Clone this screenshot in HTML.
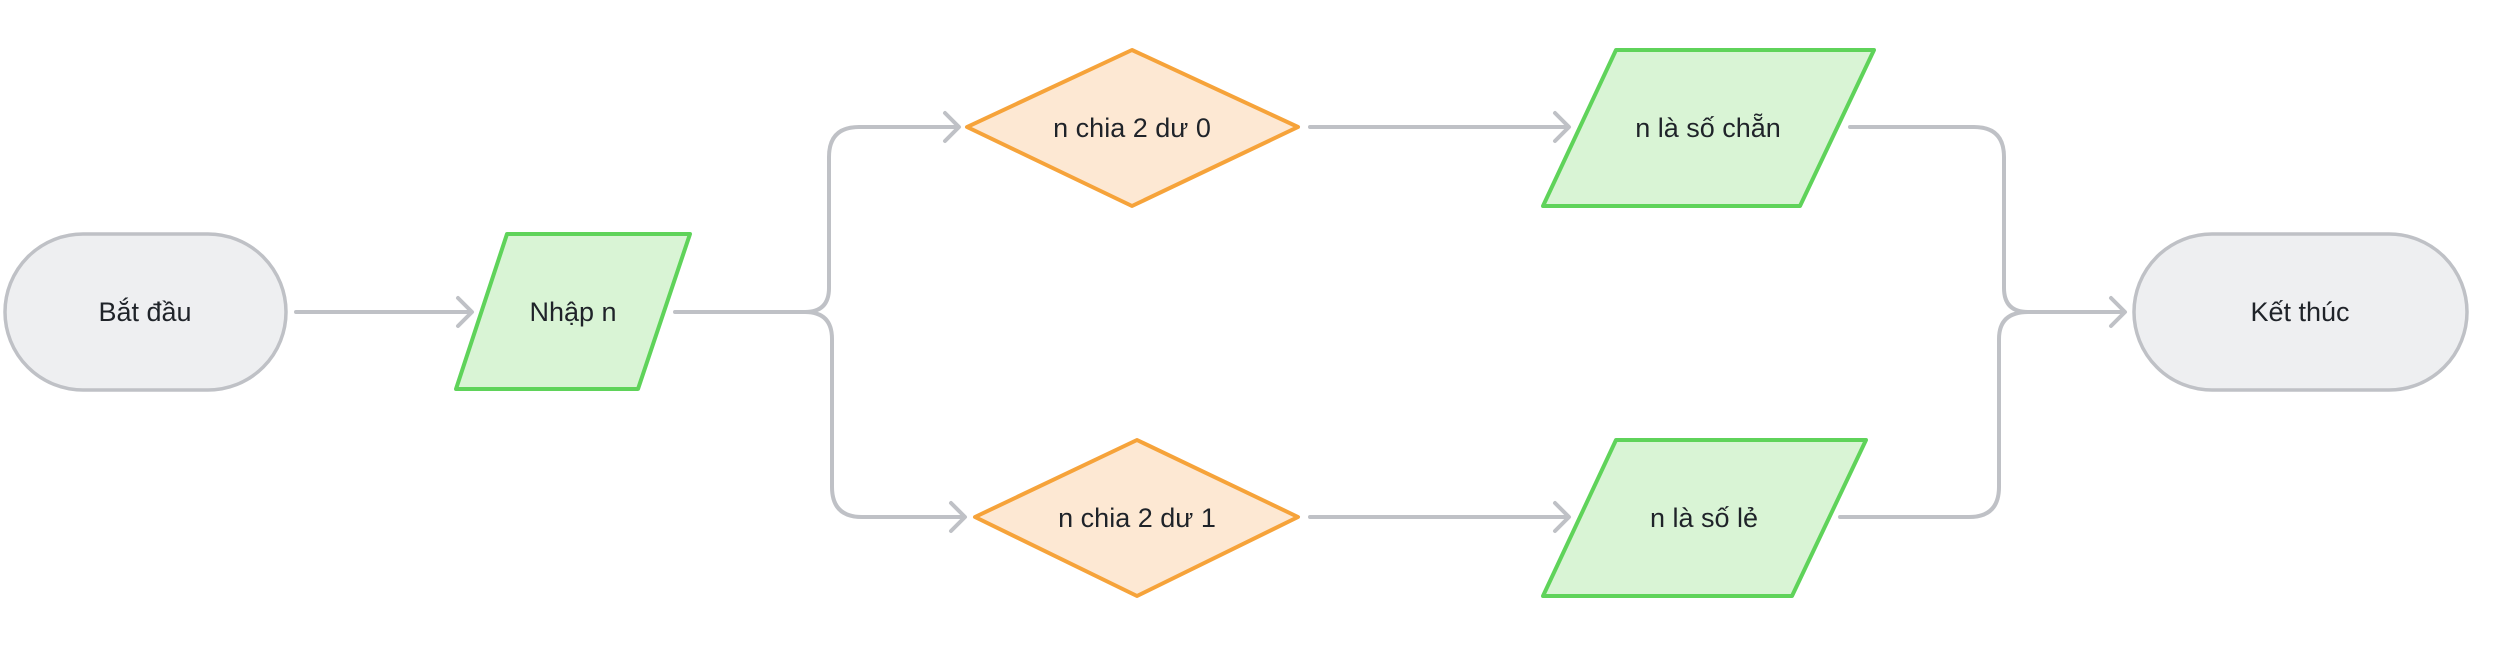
<!DOCTYPE html>
<html><head><meta charset="utf-8"><style>
html,body{margin:0;padding:0;background:#fff;}
svg text{font-family:"Liberation Sans","DejaVu Sans",sans-serif;font-size:27px;fill:#1f2329;text-anchor:middle;dominant-baseline:central;}
</style></head><body>
<svg width="2518" height="648" viewBox="0 0 2518 648" xmlns="http://www.w3.org/2000/svg">
<g fill="none" stroke="#bfc1c6" stroke-width="4" stroke-linecap="round" stroke-linejoin="round">
<path d="M296 312 H470 M458 298 L472 312 L458 326"/>
<path d="M675 312 H805 Q829 312 829 288 V157 Q829 127 859 127 H957 M945 113 L959 127 L945 141"/>
<path d="M805 312 Q832 312 832 339 V487 Q832 517 862 517 H963 M951 503 L965 517 L951 531"/>
<path d="M1310 127 H1567 M1555 113 L1569 127 L1555 141"/>
<path d="M1310 517 H1567 M1555 503 L1569 517 L1555 531"/>
<path d="M1850 127 H1974 Q2004 127 2004 157 V288 Q2004 312 2028 312 H2123 M2111 298 L2125 312 L2111 326"/>
<path d="M1840 517 H1969 Q1999 517 1999 487 V339 Q1999 312 2028 312"/>
</g>
<g>
<rect x="5" y="234" width="281" height="156" rx="78" fill="#eeeff1" stroke="#bfc1c6" stroke-width="3.5"/>
<text x="145" y="312">Bắt đầu</text></g>
<g>
<polygon points="507,234 690,234 638,389 456,389" fill="#d9f4d5" stroke="#5fd35a" stroke-width="4" stroke-linejoin="round"/>
<text x="573" y="312">Nhập n</text></g>
<g>
<polygon points="1132,50 1298,127 1132,206 967,127" fill="#fde8d3" stroke="#f6a33a" stroke-width="4" stroke-linejoin="round"/>
<text x="1132" y="128">n chia 2 dư 0</text></g>
<g>
<polygon points="1137,440 1298,517 1137,596 975,517" fill="#fde8d3" stroke="#f6a33a" stroke-width="4" stroke-linejoin="round"/>
<text x="1137" y="518">n chia 2 dư 1</text></g>
<g>
<polygon points="1616,50 1874,50 1800,206 1543,206" fill="#d9f4d5" stroke="#5fd35a" stroke-width="4" stroke-linejoin="round"/>
<text x="1708" y="128">n là số chẵn</text></g>
<g>
<polygon points="1616,440 1866,440 1792,596 1543,596" fill="#d9f4d5" stroke="#5fd35a" stroke-width="4" stroke-linejoin="round"/>
<text x="1704" y="518">n là số lẻ</text></g>
<g>
<rect x="2134" y="234" width="333" height="156" rx="78" fill="#eeeff1" stroke="#bfc1c6" stroke-width="3.5"/>
<text x="2300" y="312">Kết thúc</text></g>
</svg>
</body></html>
